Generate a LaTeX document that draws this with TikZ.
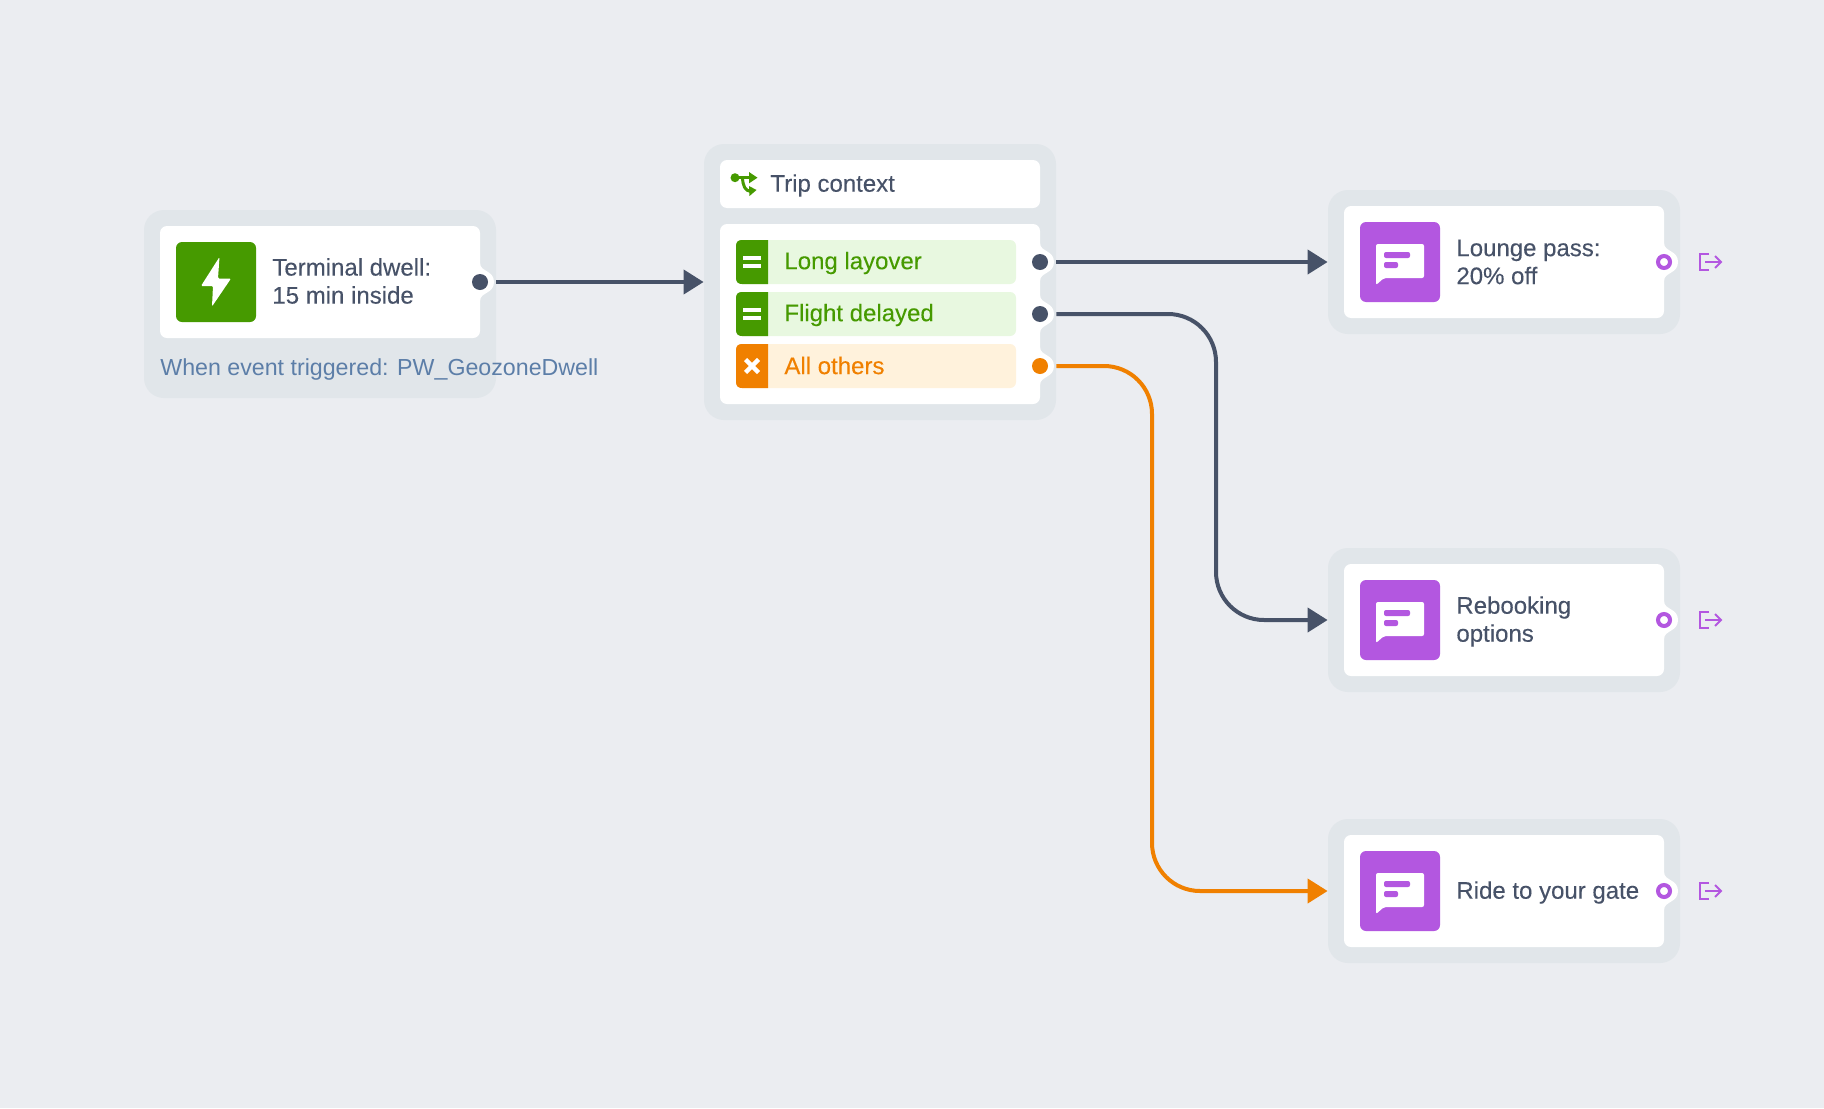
\documentclass[tikz,border=0pt]{standalone}
\usepackage{fontspec}
\setmainfont{Liberation Sans}
\newfontfamily\medfont[FakeBold=0.15]{Liberation Sans}
\usetikzlibrary{arrows.meta}
\definecolor{pagebg}{HTML}{EBEDF1}
\definecolor{framebg}{HTML}{E1E6EA}
\definecolor{slate}{HTML}{475268}
\definecolor{notegray}{HTML}{5C7EA8}
\definecolor{leaf}{HTML}{469A00}
\definecolor{leafbg}{HTML}{E8F8E0}
\definecolor{amber}{HTML}{F08000}
\definecolor{amberbg}{HTML}{FFF2DC}
\definecolor{violet}{HTML}{B357E0}
\tikzset{
    frame/.style={fill=framebg, rounded corners=10pt, inner sep=0pt},
    card/.style={fill=white, rounded corners=3.5pt, inner sep=0pt},
    iconbox/.style={rounded corners=3pt, inner sep=0pt, minimum size=40pt},
    rowbox/.style={rounded corners=3pt, inner sep=0pt, minimum width=140pt, minimum height=22pt},
    label/.style={anchor=west, inner sep=0pt, align=left, text=slate, font=\medfont\fontsize{12}{14}\selectfont},
    dotport/.style={circle, inner sep=0pt, minimum size=8pt},
    ringport/.style={circle, inner sep=0pt, minimum size=6pt, draw=violet, line width=2pt, fill=white},
    link/.style={->, line width=2pt, shorten <=4pt},
    bump/.pic={\fill[white] (0,-19) .. controls (0,-10) and (14,-12) .. (14,0) .. controls (14,12) and (0,10) .. (0,19) -- cycle;},
    chat/.pic={
        \fill[white, rounded corners=1pt] (16,22) -- (64,22) -- (64,56) -- (24,56) -- (16,63) -- cycle;
        \fill[violet, rounded corners=1pt] (24,30) rectangle (50,36);
        \fill[violet, rounded corners=1pt] (24,40) rectangle (38,46);
    },
    exit/.pic={
        \draw[violet, line width=1pt] (9,-8) -- (0,-8) -- (0,8) -- (9,8);
        \draw[violet, line width=1pt] (5,0) -- (21,0);
        \draw[violet, line width=1pt] (15,-6) -- (21,0) -- (15,6);
    },
    tab/.pic={\fill[pic actions] (32,0) -- (6,0) .. controls (2,0) and (0,2) .. (0,6) -- (0,38) .. controls (0,42) and (2,44) .. (6,44) -- (32,44) -- cycle;},
    equal/.pic={
        \fill[white] (-9,-6) rectangle (9,-2);
        \fill[white] (-9,2) rectangle (9,6);
    },
    cross/.pic={\draw[white, line width=2.2pt] (-6.5,-6.5) -- (6.5,6.5) (-6.5,6.5) -- (6.5,-6.5);}
}
\begin{document}
\begin{tikzpicture}[x=0.5pt, y=-0.5pt, >={Triangle[length=10pt, width=12pt]}]
    \useasboundingbox[fill=pagebg] (0,0) rectangle (1824,1108);

    % frames
    \node[frame, minimum width=176pt, minimum height=94pt] (dwellbox) at (320,304) {};
    \node[frame, minimum width=176pt, minimum height=138pt] (contextbox) at (880,282) {};
    \node[frame, minimum width=176pt, minimum height=72pt] (loungebox) at (1504,262) {};
    \node[frame, minimum width=176pt, minimum height=72pt] (rebookbox) at (1504,620) {};
    \node[frame, minimum width=176pt, minimum height=72pt] (ridebox) at (1504,891) {};

    % white cards
    \node[card, minimum width=160pt, minimum height=56pt] (dwellcard) at (320,282) {};
    \node[card, minimum width=160pt, minimum height=24pt] (contexthead) at (880,184) {};
    \node[card, minimum width=160pt, minimum height=90pt] (contextcard) at (880,314) {};
    \node[card, minimum width=160pt, minimum height=56pt] (loungecard) at (1504,262) {};
    \node[card, minimum width=160pt, minimum height=56pt] (rebookcard) at (1504,620) {};
    \node[card, minimum width=160pt, minimum height=56pt] (ridecard) at (1504,891) {};
    \pic at (480,282) {bump};
    \pic at (1040,262) {bump};
    \pic at (1040,314) {bump};
    \pic at (1040,366) {bump};
    \pic at (1664,262) {bump};
    \pic at (1664,620) {bump};
    \pic at (1664,891) {bump};

    % first step
    \node[iconbox, fill=leaf] (bolticon) at (216,282) {};
    \fill[white, rounded corners=0.6pt] (219.5,257) -- (201,286) -- (213,286) -- (212,306.5) -- (231,278.5) -- (218,278.5) -- cycle;
    \node[label] (dwelltext) at (272,281) {Terminal dwell:\\15 min inside};
    \node[label, text=notegray, font=\fontsize{11.6}{14}\selectfont] (dwellnote) at (160,369) {When event triggered: PW\_GeozoneDwell};
    \node[dotport, fill=slate] (dwellport) at (480,282) {};

    % branch header
    \fill[leaf] (735,177.7) circle (4.5);
    \draw[leaf, line width=1.5pt] (735,177.7) -- (752,177.7);
    \fill[leaf] (749,172) -- (757.5,177.7) -- (749,183.4) -- cycle;
    \draw[leaf, line width=1.5pt] (742.5,178) .. controls (743,186) and (745,191) .. (751,191.5);
    \fill[leaf] (749,186) -- (756.5,190) -- (749.5,196) -- cycle;
    \node[label] (contexttext) at (770,185.5) {Trip context};

    % branch rows
    \node[rowbox, fill=leafbg] (layoverrow) at (876,262) {};
    \node[rowbox, fill=leafbg] (delayrow) at (876,314) {};
    \node[rowbox, fill=amberbg] (othersrow) at (876,366) {};
    \pic[fill=leaf] at (736,240) {tab};
    \pic[fill=leaf] at (736,292) {tab};
    \pic[fill=amber] at (736,344) {tab};
    \pic at (752,262) {equal};
    \pic at (752,314) {equal};
    \pic at (752,366) {cross};
    \node[label, text=leaf] (layovertext) at (784,263) {Long layover};
    \node[label, text=leaf] (delaytext) at (784,315) {Flight delayed};
    \node[label, text=amber] (otherstext) at (784,365.5) {All others};
    \node[dotport, fill=slate] (layoverport) at (1040,262) {};
    \node[dotport, fill=slate] (delayport) at (1040,314) {};
    \node[dotport, fill=amber] (othersport) at (1040,366) {};

    % messages
    \node[iconbox, fill=violet] (loungeicon) at (1400,262) {};
    \node[iconbox, fill=violet] (rebookicon) at (1400,620) {};
    \node[iconbox, fill=violet] (rideicon) at (1400,891) {};
    \pic at (1360,222) {chat};
    \pic at (1360,580) {chat};
    \pic at (1360,851) {chat};
    \node[label] (loungetext) at (1456,262) {Lounge pass:\\20\% off};
    \node[label] (rebooktext) at (1456,621.5) {Rebooking\\options};
    \node[label] (ridetext) at (1456,892.5) {Ride to your gate};
    \node[ringport] (loungeport) at (1664,262) {};
    \node[ringport] (rebookport) at (1664,620) {};
    \node[ringport] (rideport) at (1664,891) {};
    \pic at (1700,262) {exit};
    \pic at (1700,620) {exit};
    \pic at (1700,891) {exit};

    % arrows
    \draw[link, slate] (dwellport) -- (contextbox.west);
    \draw[link, slate] (layoverport) -- (loungebox.west);
    \draw[link, slate, rounded corners=24pt] (delayport) -- (1216,314) -- (1216,620) -- (rebookbox.west);
    \draw[link, amber, rounded corners=24pt] (othersport) -- (1152,366) -- (1152,891) -- (ridebox.west);
\end{tikzpicture}
\end{document}
